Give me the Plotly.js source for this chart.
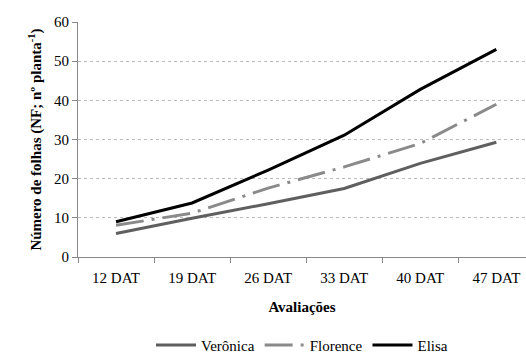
<!DOCTYPE html>
<html><head><meta charset="utf-8">
<script src="https://cdn.plot.ly/plotly-3.0.1.min.js"></script>
<style>body{margin:0;padding:0;background:#fff}#chart{width:526px;height:355px}</style>
</head><body><div id="chart"></div>
<script>
const categories = ["12 DAT","19 DAT","26 DAT","33 DAT","40 DAT","47 DAT"];
const veronica = [6.0, 9.9, 13.6, 17.5, 23.9, 29.3];
const florence = [8.1, 11.2, 17.6, 23.0, 29.0, 39.0];
const elisa = [9.0, 13.8, 22.2, 31.1, 42.8, 53.0];

const fam = "'Liberation Serif', 'Times New Roman', Times, 'DejaVu Serif', serif";
function f(size) { return {family: fam, size: size, color: "#000"}; }
const traces = [
  {x: categories, y: veronica, name: "Verônica", mode: "lines", line: {color: "#5f5f5f", width: 3}},
  {x: categories, y: florence, name: "Florence", mode: "lines", line: {color: "#8a8a8a", width: 3, dash: "28px,8px,3px,8px"}},
  {x: categories, y: elisa, name: "Elisa", mode: "lines", line: {color: "#000000", width: 3}}
];
const layout = {
  width: 526, height: 355,
  margin: {l: 78, r: 0, t: 22, b: 98, autoexpand: false},
  paper_bgcolor: "#fff", plot_bgcolor: "#fff",
  font: f(15),
  showlegend: true,
  legend: {orientation: "h", x: 0.5, xanchor: "center", xref: "paper", y: -0.305, yanchor: "top",
    font: f(15), itemwidth: 40, tracegroupgap: 0},
  xaxis: {
    type: "category", range: [-0.5, 5.39], tickson: "boundaries", ticks: "outside", ticklen: 5,
    tickcolor: "#888", showline: true, linecolor: "#888", linewidth: 1, showgrid: false, zeroline: false,
    tickfont: f(15), ticklabelstandoff: 7,
    title: {text: "<b>Avaliações</b>", font: f(15), standoff: 16}
  },
  yaxis: {
    range: [0, 60], dtick: 10, ticks: "outside", ticklen: 5, tickcolor: "#888",
    showline: true, linecolor: "#888", linewidth: 1,
    showgrid: true, gridcolor: "#bbb", griddash: "dot", gridwidth: 1, zeroline: false,
    tickfont: f(15),
    title: {text: "<b>Número de folhas (NF; nº planta<sup>-1</sup>)</b>", font: f(15), standoff: 8}
  }
};
Plotly.newPlot("chart", traces, layout, {displayModeBar: false, staticPlot: true});
</script></body></html>
